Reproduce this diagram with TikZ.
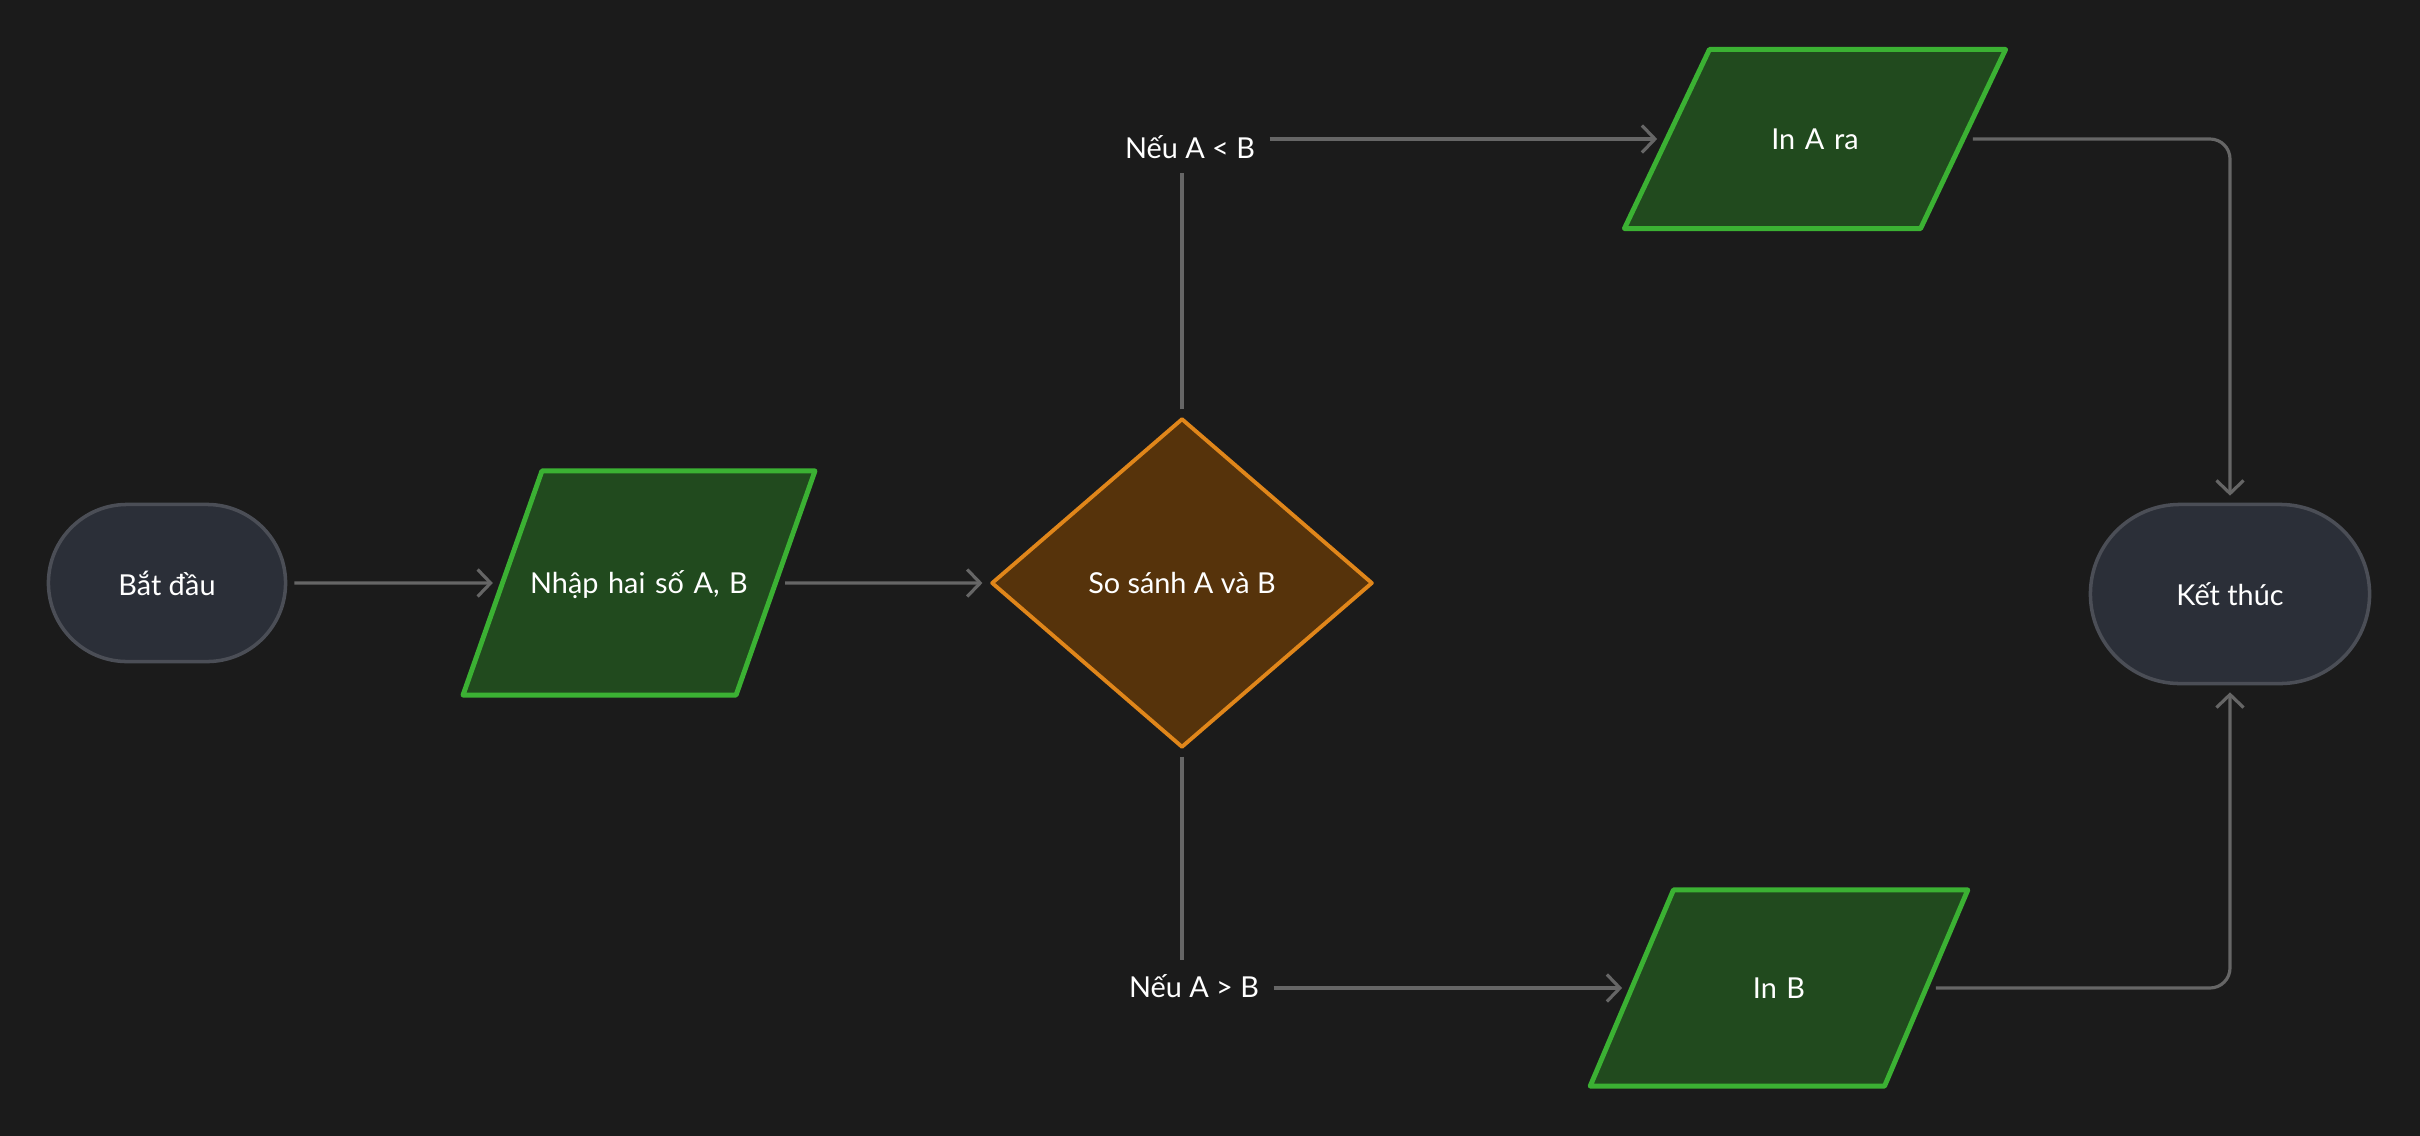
\documentclass[tikz,border=0pt]{standalone}
\usepackage{fontspec}
\setmainfont{Lato}
\usepackage{tikz}
\usetikzlibrary{arrows.meta,positioning,shapes.geometric,shapes.misc}
\definecolor{bgdark}{HTML}{1B1B1B}
\definecolor{termfill}{HTML}{2B2F38}
\definecolor{termline}{HTML}{4B4E56}
\definecolor{iofill}{HTML}{214A1E}
\definecolor{ioline}{HTML}{3BB133}
\definecolor{decfill}{HTML}{56330B}
\definecolor{decline}{HTML}{E0861A}
\definecolor{linegray}{HTML}{666666}
\tikzset{
  fc/terminal/.style={draw=termline, fill=termfill, rounded rectangle, line width=1pt, text=white, inner sep=0pt},
  fc/io/.style={draw=ioline, fill=iofill, trapezium, line width=1.4pt, line join=round, text=white, inner sep=0pt, align=center},
  fc/decision/.style={draw=decline, fill=decfill, diamond, line width=1.1pt, line join=round, inner sep=0pt, text=white},
  fc/label/.style={text=white, inner sep=2pt},
  fc/line/.style={draw=linegray, line width=0.9pt, shorten >=2pt, shorten <=2pt},
  fc/arr/.style={fc/line, -{Straight Barb[length=1.3mm,width=2.7mm]}}
}

\begin{document}
\begin{tikzpicture}[x=0.01cm, y=-0.01cm, font=\fontsize{8.2}{10}\selectfont]
  \fill[bgdark] (0,0) rectangle (2420,1136);

  \node[fc/terminal, minimum width=2.37cm, minimum height=1.57cm] (start) at (167,583) {Bắt đầu};
  \node[fc/io, trapezium left angle=70.6, trapezium right angle=109.4, text width=1.94cm, text height=1.22cm, text depth=1.02cm] (inp) at (639,583) {\makebox[1.94cm]{Nhập hai số A, B}};
  \node[fc/decision, minimum width=3.81cm, minimum height=3.29cm] (dec) at (1182,583) {So sánh A và B};
  \node[fc/label] (lbl1) at (1190,147) {Nếu A < B};
  \node[fc/label] (lbl2) at (1194,986) {Nếu A > B};
  \node[fc/io, trapezium left angle=64.6, trapezium right angle=115.4, text width=2.11cm, text height=0.995cm, text depth=0.795cm] (ina) at (1815,139) {In A ra};
  \node[fc/io, trapezium left angle=67, trapezium right angle=113, text width=2.11cm, text height=1.08cm, text depth=0.88cm] (inb) at (1779,988) {In B};
  \node[fc/terminal, minimum width=2.79cm, minimum height=1.79cm] (stop) at (2230,594) {Kết thúc};

  \draw[fc/arr] (start) -- (inp);
  \draw[fc/arr] (inp) -- (dec);
  \draw[fc/line] (dec.north) -- (lbl1.south -| dec.north);
  \draw[fc/arr] (lbl1.east |- ina.west) -- (ina.west);
  \draw[fc/line] (dec.south) -- (lbl2.north -| dec.south);
  \draw[fc/arr] (lbl2.east |- inb.west) -- (inb.west);
  \draw[fc/arr, rounded corners=2mm] (ina.east) -| (stop.north);
  \draw[fc/arr, rounded corners=2mm] (inb.east) -| (stop.south);
\end{tikzpicture}
\end{document}
